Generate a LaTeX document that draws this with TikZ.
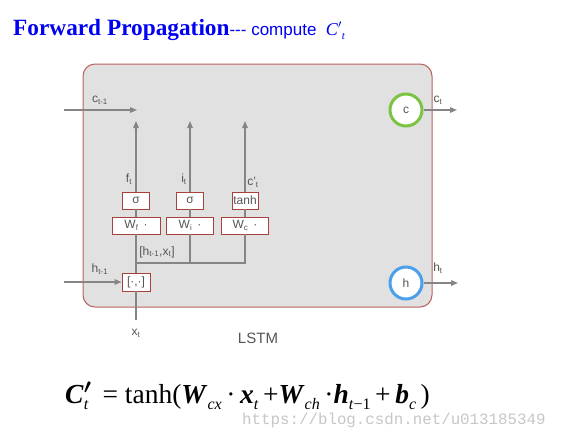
\documentclass[tikz,border=0pt]{standalone}
\usepackage{fontspec}
\setmainfont{Liberation Serif}
\setsansfont{Liberation Sans}
\setmonofont{Liberation Mono}
\usetikzlibrary{arrows.meta}

\definecolor{cellgray}{HTML}{E1E1E1}
\definecolor{cellred}{HTML}{B8625F}
\definecolor{boxred}{HTML}{A8403C}
\definecolor{wiregray}{HTML}{858585}
\definecolor{labelgray}{HTML}{555555}
\definecolor{cgreen}{HTML}{7CC243}
\definecolor{hblue}{HTML}{4C9FEA}
\definecolor{titleblue}{HTML}{0000F2}

% 公式里的小下标
\newcommand\lowsub[1]{\raisebox{-6pt}{\fontsize{16}{16}\selectfont #1}}
% 粗斜体变量加下标
\newcommand\bvar[2]{\textbf{\textit{#1}}\lowsub{\textit{#2}}}

\begin{document}
\begin{tikzpicture}[x=1pt, y=-1pt, >={Triangle[length=7pt,width=5.5pt]},
    wire/.style={draw=wiregray, line width=1.4pt},
    gatebox/.style={draw=boxred, fill=white, line width=0.9pt, inner sep=0pt, minimum height=17pt,
        text=labelgray, font=\sffamily\fontsize{12}{12}\selectfont},
    lbl/.style={inner sep=0pt, text=labelgray, font=\sffamily\fontsize{12}{12}\selectfont},
    statecirc/.style={circle, line width=3pt, fill=white, minimum size=32pt, inner sep=0pt,
        text=labelgray, font=\sffamily\fontsize{12}{12}\selectfont}]
        % 三条竖线的横坐标
        \def\colf{136}
        \def\coli{190}
        \def\colc{245}

        \useasboundingbox[fill=white] (0,0) rectangle (584,440);

        % 标题
        \node[anchor=base west, inner sep=0pt, text=titleblue] (title) at (13,35)
            {\fontsize{23.3}{23}\selectfont\textbf{Forward Propagation}\sffamily\fontsize{17}{17}\selectfont{-}{-}{-} compute\ \ \rmfamily\fontsize{18}{18}\selectfont\textit{C}$'$\raisebox{-4pt}{\fontsize{11}{11}\selectfont\textit{t}}};

        % LSTM 单元外框
        \node[draw=cellred, fill=cellgray, line width=1pt, rounded corners=12pt,
            minimum width=349pt, minimum height=243pt] (cell) at (257.5,185.5) {};

        % 门的方框
        \node[gatebox, minimum width=27pt] (sigf) at (\colf,200.5) {σ};
        \node[gatebox, minimum width=27pt] (sigi) at (\coli,200.5) {σ};
        \node[gatebox, minimum width=26pt] (tanhc) at (\colc,200.5) {tanh};
        \node[gatebox, minimum width=48pt] (Wf) at (\colf,225.5) {W\textsubscript{f}\hspace{5pt}·};
        \node[gatebox, minimum width=47pt] (Wi) at (\coli,225.5) {W\textsubscript{i}\hspace{5pt}·};
        \node[gatebox, minimum width=47pt] (Wc) at (\colc,225.5) {W\textsubscript{c}\hspace{5pt}·};
        \node[gatebox, minimum width=28pt, minimum height=18pt] (cat) at (\colf,282) {[·,·]};

        % 状态圆
        \node[statecirc, draw=cgreen] (cst) at (406,110) {c};
        \node[statecirc, draw=hblue] (hst) at (406,283) {h};

        % 端点
        \coordinate (cin) at (64,110);
        \coordinate (cend) at (137,110);
        \coordinate (hin) at (64,282);
        \coordinate (xin) at (\colf,320);
        \coordinate (joint) at (\colf,263);
        \coordinate (fend) at (\colf,121);
        \coordinate (iend) at (\coli,121);
        \coordinate (cpend) at (\colc,121);
        \coordinate (cout) at (457,110);
        \coordinate (hout) at (458,283);

        % 连线
        \draw[wire, ->] (cin) -- (cend);
        \draw[wire, ->] (hin) -- (cat.west);
        \draw[wire] (xin) -- (cat.south);
        \draw[wire] (cat.north) -- (Wf.south);
        \draw[wire] (joint) -| (Wi.south);
        \draw[wire] (joint) -| (Wc.south);
        \draw[wire] (Wf.north) -- (sigf.south);
        \draw[wire] (Wi.north) -- (sigi.south);
        \draw[wire] (Wc.north) -- (tanhc.south);
        \draw[wire, ->] (sigf.north) -- (fend);
        \draw[wire, ->] (sigi.north) -- (iend);
        \draw[wire, ->] (tanhc.north) -- (cpend);
        \draw[wire, ->] (cst.east) -- (cout);
        \draw[wire, ->] (hst.east) -- (hout);

        % 标签
        \node[lbl] (lcin) at (100,100) {c\textsubscript{t-1}};
        \node[lbl] (lhin) at (100,269) {h\textsubscript{t-1}};
        \node[lbl] (lft) at (129,179) {f\textsubscript{t}};
        \node[lbl] (lit) at (184,179) {i\textsubscript{t}};
        \node[lbl] (lct) at (253,182) {c'\textsubscript{t}};
        \node[lbl] (lhx) at (157,252) {[h\textsubscript{t-1},x\textsubscript{t}]};
        \node[lbl] (lxt) at (136,333) {x\textsubscript{t}};
        \node[lbl] (lcout) at (438,100) {c\textsubscript{t}};
        \node[lbl] (lhout) at (438,268) {h\textsubscript{t}};
        \node[lbl, font=\sffamily\fontsize{15}{15}\selectfont] (lstm) at (258,338) {LSTM};

        % 公式
        \node[anchor=base west, inner sep=0pt] (formula) at (65,403)
            {\fontsize{27.5}{28}\selectfont\textbf{\textit{C}}\rlap{\boldmath$'$}\lowsub{\textit{t}}\hspace{14pt}= tanh(\bvar{W}{cx}\,·\,\bvar{x}{t}\,+\bvar{W}{ch}\,·\bvar{h}{t\textup{−1}}\,+\,\bvar{b}{c}\,)};

        % 水印
        \node[anchor=base west, inner sep=0pt, text=black!22] (mark) at (242,424)
            {\ttfamily\fontsize{15.8}{16}\selectfont https://blog.csdn.net/u013185349};
    \end{tikzpicture}
\end{document}
